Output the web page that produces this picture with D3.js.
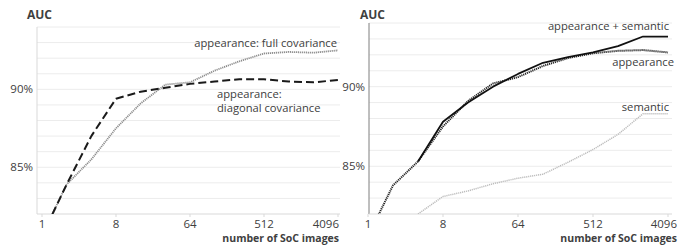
<!DOCTYPE html>
<html>
<head>
<meta charset="utf-8">
<script src="https://cdn.jsdelivr.net/npm/d3@7"></script>
<style>
  body { margin: 0; background: #fff; }
  text { font-family: "Open Sans", sans-serif; fill: #404040; }
</style>
</head>
<body>
<div id="chart"></div>
<script>
// number of SoC images (x values, log2 axis)
var nImages = [1, 2, 4, 8, 16, 32, 64, 128, 256, 512, 1024, 2048, 4096];
var nImagesFrom4 = [4, 8, 16, 32, 64, 128, 256, 512, 1024, 2048, 4096];
var xTicks = [1, 8, 64, 512, 4096];
var yTicks = [85, 90];

// left panel: AUC (%)
var fullCovariance = [80.6, 83.9, 85.5, 87.5, 89.1, 90.3, 90.45, 91.2, 91.8, 92.3, 92.4, 92.35, 92.5];
var diagonalCovariance = [80.6, 83.9, 87.0, 89.4, 89.85, 90.1, 90.35, 90.5, 90.65, 90.65, 90.5, 90.45, 90.6];

// right panel: AUC (%)
var appearanceSemantic = [85.3, 87.8, 89.0, 90.0, 90.8, 91.5, 91.85, 92.15, 92.55, 93.15, 93.15];
var appearance = [80.6, 83.8, 85.3, 87.5, 89.1, 90.2, 90.6, 91.3, 91.8, 92.1, 92.25, 92.3, 92.15];
var semantic = [82.0, 83.1, 83.45, 83.9, 84.25, 84.5, 85.25, 86.05, 87.0, 88.3, 88.3];

var width = 679, height = 245;

var svg = d3.select("#chart")
    .append("svg")
    .attr("width", width)
    .attr("height", height);

function panel(cfg) {
    var g = svg.append("g");

    var xscale = d3.scaleLog().base(2)
        .domain([1, 4096])
        .range([cfg.x1, cfg.x2]);
    var yscale = d3.scaleLinear()
        .domain([82, 94])
        .range([cfg.bottom, cfg.top]);

    // gridlines every 1%
    g.selectAll(".grid")
        .data(d3.range(83, 95))
        .enter()
        .append("line")
        .attr("x1", cfg.axisX)
        .attr("x2", cfg.gridEnd)
        .attr("y1", function(d) { return yscale(d); })
        .attr("y2", function(d) { return yscale(d); })
        .attr("stroke", "#ececec")
        .attr("stroke-width", 1);

    // axis lines
    g.append("line")
        .attr("x1", cfg.axisX).attr("x2", cfg.axisX)
        .attr("y1", cfg.top).attr("y2", cfg.bottom)
        .attr("stroke", cfg.yAxisColour).attr("stroke-width", 1);
    g.append("line")
        .attr("x1", cfg.axisX).attr("x2", cfg.gridEnd)
        .attr("y1", cfg.bottom).attr("y2", cfg.bottom)
        .attr("stroke", "#d9d9d9").attr("stroke-width", 1);

    g.selectAll(".xtickmark")
        .data(xTicks)
        .enter()
        .append("line")
        .attr("x1", function(d) { return xscale(d); })
        .attr("x2", function(d) { return xscale(d); })
        .attr("y1", cfg.bottom)
        .attr("y2", cfg.bottom + 3)
        .attr("stroke", "#d9d9d9");

    // tick labels
    g.selectAll(".ytick")
        .data(yTicks)
        .enter()
        .append("text")
        .attr("x", cfg.axisX - 4)
        .attr("y", function(d) { return yscale(d) + 4; })
        .attr("text-anchor", "end")
        .attr("font-size", "11.5px")
        .text(function(d) { return d + "%"; });

    g.selectAll(".xtick")
        .data(xTicks)
        .enter()
        .append("text")
        .attr("y", cfg.bottom + 14)
        .attr("text-anchor", "middle")
        .attr("font-size", "11.5px")
        .text(function(d) { return d; })
        .attr("x", function(d) {
            // keep the last label inside the panel
            var half = this.getComputedTextLength() / 2;
            return Math.min(xscale(d), cfg.labelEnd - half);
        });

    g.append("text")
        .attr("x", cfg.titleX)
        .attr("y", 19)
        .attr("font-size", "12px")
        .attr("font-weight", "bold")
        .attr("fill", "#222")
        .text("AUC");

    g.append("text")
        .attr("x", cfg.labelEnd)
        .attr("y", 242)
        .attr("text-anchor", "end")
        .attr("font-size", "10.5px")
        .attr("font-weight", "bold")
        .attr("fill", "#222")
        .text("number of SoC images");

    // clip lines to plot area
    svg.append("clipPath")
        .attr("id", cfg.id + "_clip")
        .append("rect")
        .attr("x", cfg.axisX)
        .attr("y", cfg.top - 5)
        .attr("width", cfg.gridEnd - cfg.axisX)
        .attr("height", cfg.bottom - cfg.top + 5);

    var line = d3.line()
        .x(function(d) { return xscale(d[0]); })
        .y(function(d) { return yscale(d[1]); });

    cfg.series.forEach(function(s) {
        g.append("path")
            .datum(d3.zip(s.x, s.y))
            .attr("clip-path", "url(#" + cfg.id + "_clip)")
            .attr("d", line)
            .attr("fill", "none")
            .attr("stroke", s.colour)
            .attr("stroke-width", s.width)
            .attr("stroke-dasharray", s.dash)
            .attr("stroke-linejoin", "round");
    });

    cfg.labels.forEach(function(l) {
        g.append("text")
            .attr("x", l.x)
            .attr("y", l.y)
            .attr("text-anchor", l.anchor)
            .attr("font-size", "11.2px")
            .attr("fill", "#333")
            .text(l.text);
    });
}

panel({
    id: "left",
    x1: 42, x2: 338, axisX: 37, gridEnd: 340, labelEnd: 339,
    top: 27, bottom: 214,
    titleX: 27,
    yAxisColour: "#d9d9d9",
    series: [
        { x: nImages, y: fullCovariance, colour: "#8c8c8c", width: 1.8, dash: "1.2,0.8" },
        { x: nImages, y: diagonalCovariance, colour: "#1a1a1a", width: 2, dash: "8,4" }
    ],
    labels: [
        { text: "appearance: full covariance", x: 337, y: 47, anchor: "end" },
        { text: "appearance:", x: 217, y: 98, anchor: "start" },
        { text: "diagonal covariance", x: 217, y: 112, anchor: "start" }
    ]
});

panel({
    id: "right",
    x1: 368, x2: 668, axisX: 369, gridEnd: 672, labelEnd: 677,
    top: 23, bottom: 214,
    titleX: 360,
    yAxisColour: "#7f7f7f",
    series: [
        { x: nImagesFrom4, y: semantic, colour: "#bdbdbd", width: 1.5, dash: "1.2,0.8" },
        { x: nImages, y: appearance, colour: "#262626", width: 2, dash: "1.2,0.8" },
        { x: nImagesFrom4, y: appearanceSemantic, colour: "#111", width: 1.8, dash: null }
    ],
    labels: [
        { text: "appearance + semantic", x: 669, y: 30, anchor: "end" },
        { text: "appearance", x: 674, y: 66, anchor: "end" },
        { text: "semantic", x: 669, y: 111, anchor: "end" }
    ]
});
</script>
</body>
</html>
